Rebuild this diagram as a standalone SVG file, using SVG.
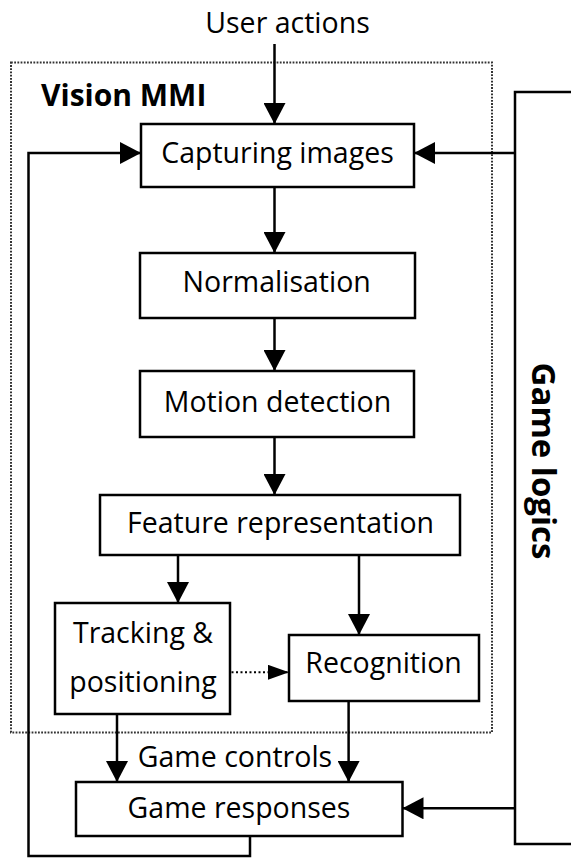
<svg xmlns="http://www.w3.org/2000/svg" width="571" height="858" viewBox="0 0 571 858">
<style>
  .box { fill: #ffffff; stroke: #000000; stroke-width: 2.5; }
  .lbl { font-family: "Open Sans", "Noto Sans", sans-serif; font-size: 28.5px; fill: #000000; text-anchor: middle; }
  .bold { font-family: "Open Sans", "Noto Sans", sans-serif; font-weight: bold; fill: #000000; }
  .edge { fill: none; stroke: #000000; stroke-width: 2.5; }
  .dot { fill: none; stroke: #000000; stroke-width: 2; stroke-dasharray: 2 2.5; }
  .frame { fill: none; stroke: #333333; stroke-width: 2; stroke-dasharray: 1.8 1.4; }
</style>
<defs>
  <marker id="ah" markerUnits="userSpaceOnUse" markerWidth="22" markerHeight="22" refX="21" refY="11" orient="auto">
    <path d="M0,0 L21,11 L0,22 Z" fill="#000000"/>
  </marker>
  <marker id="ahs" markerUnits="userSpaceOnUse" markerWidth="22" markerHeight="16" refX="21" refY="7.5" orient="auto">
    <path d="M0,0 L21,7.5 L0,15 Z" fill="#000000"/>
  </marker>
</defs>
<rect width="571" height="858" fill="#ffffff"/>

<g id="vision-mmi">
  <rect class="frame" x="11" y="62.5" width="481" height="670"/>
  <text class="bold" x="41" y="106" font-size="30">Vision MMI</text>
</g>

<g id="game-logics">
  <rect class="box" x="515" y="92" width="100" height="752"/>
  <text class="bold" font-size="33" text-anchor="middle" transform="translate(532,461) rotate(90)">Game logics</text>
</g>

<g id="user-actions">
  <text class="lbl" x="287.5" y="33">User actions</text>
</g>

<g id="capturing">
  <rect class="box" x="141" y="124" width="273" height="63"/>
  <text class="lbl" x="277.5" y="163">Capturing images</text>
</g>

<g id="normalisation">
  <rect class="box" x="140" y="253" width="275" height="65"/>
  <text class="lbl" x="276.7" y="291.7">Normalisation</text>
</g>

<g id="motion">
  <rect class="box" x="140" y="371" width="274" height="66"/>
  <text class="lbl" x="277.5" y="411.7">Motion detection</text>
</g>

<g id="feature">
  <rect class="box" x="100" y="495" width="360" height="60"/>
  <text class="lbl" x="280.5" y="533">Feature representation</text>
</g>

<g id="tracking">
  <rect class="box" x="55" y="603" width="175" height="111"/>
  <text class="lbl" x="143" y="642.7">Tracking &amp;</text>
  <text class="lbl" x="143" y="691.7">positioning</text>
</g>

<g id="recognition">
  <rect class="box" x="289" y="635" width="190" height="66"/>
  <text class="lbl" x="383.6" y="673">Recognition</text>
</g>

<g id="game-controls">
  <text class="lbl" x="235" y="767.3">Game controls</text>
</g>

<g id="game-responses">
  <rect class="box" x="76" y="782" width="326.5" height="54"/>
  <text class="lbl" x="239" y="818">Game responses</text>
</g>

<g id="connectors">
  <line class="edge" x1="274.5" y1="44" x2="274.5" y2="124" marker-end="url(#ah)"/>
  <line class="edge" x1="274.5" y1="187" x2="274.5" y2="253" marker-end="url(#ah)"/>
  <line class="edge" x1="274.5" y1="318" x2="274.5" y2="371" marker-end="url(#ah)"/>
  <line class="edge" x1="274.5" y1="437" x2="274.5" y2="495" marker-end="url(#ah)"/>
  <line class="edge" x1="178" y1="555" x2="178" y2="603" marker-end="url(#ah)"/>
  <line class="edge" x1="359" y1="555" x2="359" y2="635" marker-end="url(#ah)"/>
  <line class="dot" x1="231.5" y1="672.3" x2="289" y2="672.3" marker-end="url(#ahs)"/>
  <line class="edge" x1="117" y1="714" x2="117" y2="782" marker-end="url(#ah)"/>
  <line class="edge" x1="348.6" y1="701" x2="348.6" y2="782" marker-end="url(#ah)"/>
  <line class="edge" x1="515" y1="153" x2="414" y2="153" marker-end="url(#ah)"/>
  <line class="edge" x1="515" y1="808.3" x2="402.5" y2="808.3" marker-end="url(#ah)"/>
  <path class="edge" d="M250,836 V856 H28.5 V153 H141" marker-end="url(#ah)"/>
</g>
</svg>
